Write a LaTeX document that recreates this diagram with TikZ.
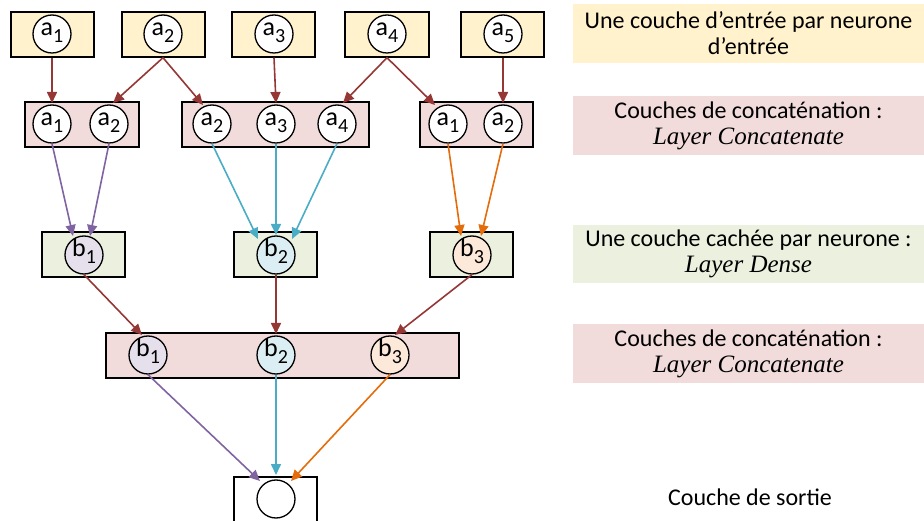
\documentclass[tikz,border=0pt]{standalone}
\usepackage{fontspec}
\setmainfont{Carlito}
\newfontfamily\tmsfont{Liberation Serif}
\usetikzlibrary{arrows.meta,calc}
\definecolor{yelF}{HTML}{FFF2CC}
\definecolor{pinkF}{HTML}{F2DCDB}
\definecolor{grnF}{HTML}{EBF1DE}
\definecolor{bOneF}{HTML}{E5E0EC}
\definecolor{bTwoF}{HTML}{DAEEF3}
\definecolor{bThreeF}{HTML}{FDE9D9}
\definecolor{dred}{HTML}{953735}
\definecolor{purp}{HTML}{8064A2}
\definecolor{cyn}{HTML}{4BACC6}
\definecolor{orng}{HTML}{E46C0A}
\newcommand\nlab[2]{\smash{\raisebox{-1.5pt}{#1\raisebox{-7pt}{\fontsize{20}{20}\selectfont #2}}}}
\newcommand\itl[1]{{\fontsize{25}{26}\selectfont\tmsfont\itshape #1}}
\tikzset{
  layerbox/.style={draw=black, line width=1.4pt, rectangle, inner sep=0pt, minimum height=45pt},
  neur/.style={draw=black, line width=1.3pt, circle, fill=white, inner sep=0pt, minimum size=38pt, font=\fontsize{26}{26}\selectfont},
  lblbox/.style={rectangle, inner sep=0pt, minimum width=351pt, align=center, font=\fontsize{24}{26}\selectfont},
  conn/.style={line width=1.6pt, -{Triangle[length=11pt,width=10pt]}}
}
\begin{document}
\begin{tikzpicture}[x=1pt,y=-1pt]
\useasboundingbox (0,0) rectangle (924,521);
% input layer
\node[layerbox, fill=yelF, minimum width=83pt] (ib1) at (52.5,34.5) {};
\node[layerbox, fill=yelF, minimum width=83pt] (ib2) at (163.5,34.5) {};
\node[layerbox, fill=yelF, minimum width=83pt] (ib3) at (273.5,34.5) {};
\node[layerbox, fill=yelF, minimum width=84pt] (ib4) at (387,34.5) {};
\node[layerbox, fill=yelF, minimum width=83pt] (ib5) at (502.5,34.5) {};
\node[neur] (i1) at (52,34) {\nlab{a}{1}};
\node[neur] (i2) at (163,34) {\nlab{a}{2}};
\node[neur] (i3) at (274,34) {\nlab{a}{3}};
\node[neur] (i4) at (387,34) {\nlab{a}{4}};
\node[neur] (i5) at (503,34) {\nlab{a}{5}};
% concat layer 1
\node[layerbox, fill=pinkF, minimum width=114pt] (cb1) at (82,124.5) {};
\node[layerbox, fill=pinkF, minimum width=187pt] (cb2) at (275.5,124.5) {};
\node[layerbox, fill=pinkF, minimum width=113pt] (cb3) at (476.5,124.5) {};
\node[neur] (c11) at (52,124) {\nlab{a}{1}};
\node[neur] (c12) at (109,124) {\nlab{a}{2}};
\node[neur] (c21) at (212,124) {\nlab{a}{2}};
\node[neur] (c22) at (276,124) {\nlab{a}{3}};
\node[neur] (c23) at (337,124) {\nlab{a}{4}};
\node[neur] (c31) at (448,124) {\nlab{a}{1}};
\node[neur] (c32) at (503,124) {\nlab{a}{2}};
% hidden layer
\node[layerbox, fill=grnF, minimum width=83pt] (hb1) at (83.5,254.5) {};
\node[layerbox, fill=grnF, minimum width=83pt] (hb2) at (275.5,254.5) {};
\node[layerbox, fill=grnF, minimum width=83pt] (hb3) at (471.5,254.5) {};
\node[neur, fill=bOneF] (h1) at (84,255) {\nlab{b}{1}};
\node[neur, fill=bTwoF] (h2) at (276,255) {\nlab{b}{2}};
\node[neur, fill=bThreeF] (h3) at (472,255) {\nlab{b}{3}};
% concat layer 2
\node[layerbox, fill=pinkF, minimum width=353pt] (db) at (282.5,355.5) {};
\node[neur, fill=bOneF] (d1) at (148,355) {\nlab{b}{1}};
\node[neur, fill=bTwoF] (d2) at (276,355) {\nlab{b}{2}};
\node[neur, fill=bThreeF] (d3) at (390,355) {\nlab{b}{3}};
% output
\node[layerbox, fill=white, minimum width=83pt] (ob) at (275.5,499.5) {};
\node[neur] (o) at (276,499) {};
% connectors row 1 -> 2
\draw[conn, dred] (ib1.south -| i1) -- ($(c11)+(0,-21)$);
\draw[conn, dred] (ib2.south -| i2) -- ($(c12)+(4,-21)$);
\draw[conn, dred] (ib2.south -| i2) -- ($(c21)+(-9,-19)$);
\draw[conn, dred] (ib3.south -| i3) -- ($(c22)+(0,-21)$);
\draw[conn, dred] (ib4.south -| i4) -- ($(c23)+(6,-21)$);
\draw[conn, dred] (ib4.south -| i4) -- ($(c31)+(-13,-19)$);
\draw[conn, dred] (ib5.south -| i5) -- ($(c32)+(0,-21)$);
% row 2 -> 3
\draw[conn, purp] (c11.south) -- ($(h1)+(-11,-19)$);
\draw[conn, purp] (c12.south) -- ($(h1)+(6,-19)$);
\draw[conn, cyn] (c21.south) -- ($(h2)+(-18,-16)$);
\draw[conn, cyn] (c22.south) -- ($(h2)+(0,-20)$);
\draw[conn, cyn] (c23.south) -- ($(h2)+(16,-16)$);
\draw[conn, orng] (c31.south) -- ($(h3)+(-11,-19)$);
\draw[conn, orng] (c32.south) -- ($(h3)+(9,-19)$);
% row 3 -> 4
\draw[conn, dred] (h1.south) -- ($(d1)+(-6,-20)$);
\draw[conn, dred] (h2.south) -- ($(d2)+(0,-21)$);
\draw[conn, dred] (h3.south) -- ($(d3)+(5,-20)$);
% row 4 -> 5
\draw[conn, purp] (d1.south) -- ($(o)+(-16,-18)$);
\draw[conn, cyn] (d2.south) -- ($(o)+(0,-24)$);
\draw[conn, orng] (d3.south) -- ($(o)+(15,-18)$);
% legend
\node[lblbox, fill=yelF, minimum height=59pt] (l1) at (748.5,33.5) {Une couche d’entrée par neurone\\d’entrée};
\node[lblbox, fill=pinkF, minimum height=59pt] (l2) at (748.5,125.5) {Couches de concaténation :\\\itl{Layer Concatenate}};
\node[lblbox, fill=grnF, minimum height=58pt] (l3) at (748.5,254) {Une couche cachée par neurone :\\\itl{Layer Dense}};
\node[lblbox, fill=pinkF, minimum height=59pt] (l4) at (748.5,353.5) {Couches de concaténation :\\\itl{Layer Concatenate}};
\node[lblbox] (l5) at (750,497) {Couche de sortie};
\end{tikzpicture}
\end{document}
